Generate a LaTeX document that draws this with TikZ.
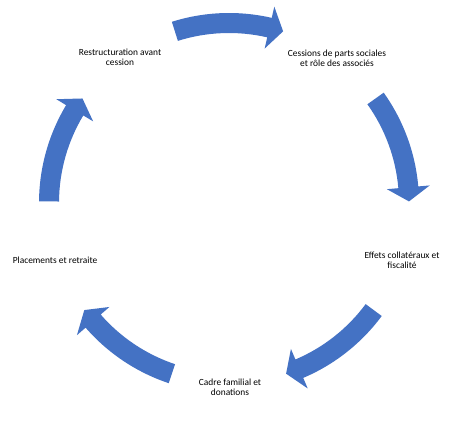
\documentclass[tikz,border=0pt]{standalone}
\usepackage{fontspec}
\setmainfont{Carlito}
\usetikzlibrary{calc}
\definecolor{arrowblue}{RGB}{68,114,196}
\newcommand{\cyclearrow}[1]{%
  % #1 = mid angle; travel is clockwise
  \pgfmathsetmacro{\ta}{#1+17.5}%
  \pgfmathsetmacro{\pa}{#1-17.5}%
  \pgfmathsetmacro{\ba}{#1-13}%
  \fill[arrowblue]
    ($(C)+(\ta:190)$) arc[start angle=\ta, end angle=\ba, radius=190]
    -- ($(C)+(\ba:201.5)$) -- ($(C)+(\pa:180)$) -- ($(C)+(\ba:158.5)$)
    -- ($(C)+(\ba:170)$) arc[start angle=\ba, end angle=\ta, radius=170]
    -- cycle;}
\begin{document}
\begin{tikzpicture}[x=1pt,y=1pt,
  lbl/.style={font=\fontsize{9.4}{10}\selectfont, align=center, inner sep=0pt}]
\useasboundingbox (0,0) rectangle (459,442);
\coordinate (C) at (229,239);
\node[lbl] (n1) at (120,385) {Restructuration avant\\cession};
\node[lbl] (n2) at (337,384) {Cessions de parts sociales\\et rôle des associés};
\node[lbl] (n3) at (402,182) {Effets collatéraux et\\fiscalité};
\node[lbl] (n4) at (230,55) {Cadre familial et\\donations};
\node[lbl] (n5) at (55,182) {Placements et retraite};
\cyclearrow{90}
\cyclearrow{18}
\cyclearrow{-54}
\cyclearrow{-126}
\cyclearrow{-198}
\end{tikzpicture}
\end{document}
